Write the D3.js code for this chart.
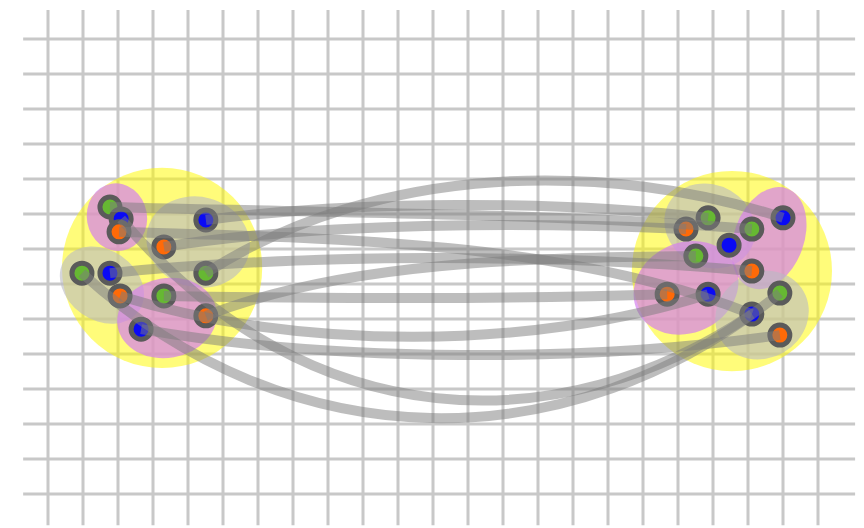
<!DOCTYPE html>
<html><head><meta charset="utf-8">
<script src="https://cdn.jsdelivr.net/npm/d3@7"></script>
<style>html,body{margin:0;padding:0;background:#fff}svg{display:block}</style>
</head><body><svg id="chart" width="864" height="528"></svg>
<script>
// ---- grid (in grid units) ----
const gridCols = d3.range(0, 23);
const gridRows = d3.range(0, 14);
const gridColSpan = [-0.83, 13.89];
const gridRowSpan = [-0.71, 23.06];

// ---- nodes (grid units) ----
const nodeCategories = ["green", "blue", "orange"];
const nodeX = [1.77, 2.09, 2.03, 3.31, 4.51, 4.51, 0.97, 1.77, 2.06, 3.31, 4.51, 2.66,
               21.0, 18.86, 18.23, 20.11, 19.46, 18.51, 20.11, 17.69, 18.86, 20.91, 20.11, 20.91];
const nodeY = [4.80, 5.14, 5.51, 5.94, 5.17, 6.69, 6.69, 6.69, 7.34, 7.34, 7.91, 8.29,
               5.11, 5.11, 5.43, 5.43, 5.89, 6.20, 6.63, 7.29, 7.29, 7.26, 7.86, 8.46];
const nodeCat = ["green", "blue", "orange", "orange", "blue", "green", "green", "blue", "orange", "green", "orange", "blue",
                 "blue", "green", "orange", "green", "blue", "green", "orange", "orange", "blue", "green", "blue", "orange"];

// ---- links: source index, target index, curve depth (y at middle, grid units) ----
const linkSource = [5, 4, 0, 3, 2, 10, 7, 9, 8, 11, 1, 6];
const linkTarget = [12, 13, 15, 14, 22, 17, 18, 19, 20, 23, 22, 21];
const linkMid = [4.09, 4.74, 5.0, 5.34, 5.94, 6.46, 6.26, 7.4, 8.51, 9.03, 10.26, 10.83];

// ---- groups (hulls): cx, cy, rx, ry, rotation, kind ----
const hullCX = [3.26, 1.97, 4.29, 1.54, 3.40, 19.54, 18.91, 20.60, 18.23, 20.40];
const hullCY = [6.54, 5.09, 5.80, 7.03, 7.97, 6.63, 5.34, 5.69, 7.11, 7.89];
const hullRX = [2.86, 0.86, 1.49, 1.29, 1.43, 2.86, 1.34, 1.00, 1.54, 1.37];
const hullRY = [2.86, 0.97, 1.29, 1.00, 1.14, 2.86, 1.17, 1.51, 1.29, 1.23];
const hullRot = [0, -10, 15, 35, -10, 0, 30, 20, -25, -30];
const hullKind = ["outer", "pink", "gray", "gray", "pink", "outer", "gray", "pink", "pink", "gray"];

const W = 864, H = 528;
const x = d3.scaleLinear().domain([0, 22]).range([48, 818]);
const y = d3.scaleLinear().domain([0, 13]).range([39, 494]);
const unit = x(1) - x(0);

const color = d3.scaleOrdinal().domain(nodeCategories).range(["#66b832", "#0a0af5", "#ff6a08"]);
const hullFill = d3.scaleOrdinal().domain(["outer", "pink", "gray"])
  .range(["rgba(255,250,0,0.52)", "rgba(212,128,236,0.7)", "rgba(185,185,195,0.6)"]);

const svg = d3.select("#chart");

// grid
const g0 = svg.append("g").attr("stroke", "#c8c8c8").attr("stroke-width", 3);
g0.selectAll("line.h").data(gridRows).join("line").attr("class", "h")
  .attr("x1", x(gridRowSpan[0])).attr("x2", x(gridRowSpan[1]))
  .attr("y1", d => y(d)).attr("y2", d => y(d));
g0.selectAll("line.v").data(gridCols).join("line").attr("class", "v")
  .attr("x1", d => x(d)).attr("x2", d => x(d))
  .attr("y1", y(gridColSpan[0])).attr("y2", y(gridColSpan[1]));

// hulls
const hulls = hullCX.map((cx, i) => ({cx, cy: hullCY[i], rx: hullRX[i], ry: hullRY[i], rot: hullRot[i], kind: hullKind[i]}));
svg.append("g").selectAll("ellipse").data(hulls).join("ellipse")
  .attr("transform", d => `translate(${x(d.cx)},${y(d.cy)}) rotate(${d.rot})`)
  .attr("rx", d => d.rx * unit).attr("ry", d => d.ry * unit)
  .attr("fill", d => hullFill(d.kind));

// nodes
const nodes = nodeX.map((v, i) => ({x: x(v), y: y(nodeY[i]), cat: nodeCat[i]}));
svg.append("g").selectAll("circle").data(nodes).join("circle")
  .attr("cx", d => d.x).attr("cy", d => d.y).attr("r", 10)
  .attr("fill", d => color(d.cat)).attr("stroke", "#5a5a5a").attr("stroke-width", 5);

// links
const links = linkSource.map((s, i) => ({s: nodes[s], t: nodes[linkTarget[i]], m: y(linkMid[i])}));
function linkPath(d) {
  const p = d3.path();
  const c = (8 * d.m - d.s.y - d.t.y) / 6;
  const k = 0.3 * (d.t.x - d.s.x);
  p.moveTo(d.s.x, d.s.y);
  p.bezierCurveTo(d.s.x + k, c, d.t.x - k, c, d.t.x, d.t.y);
  return p.toString();
}
svg.append("g").selectAll("path").data(links).join("path")
  .attr("d", linkPath).attr("fill", "none")
  .attr("stroke", "#7c7c7c").attr("stroke-opacity", 0.5).attr("stroke-width", 10);
</script></body></html>
